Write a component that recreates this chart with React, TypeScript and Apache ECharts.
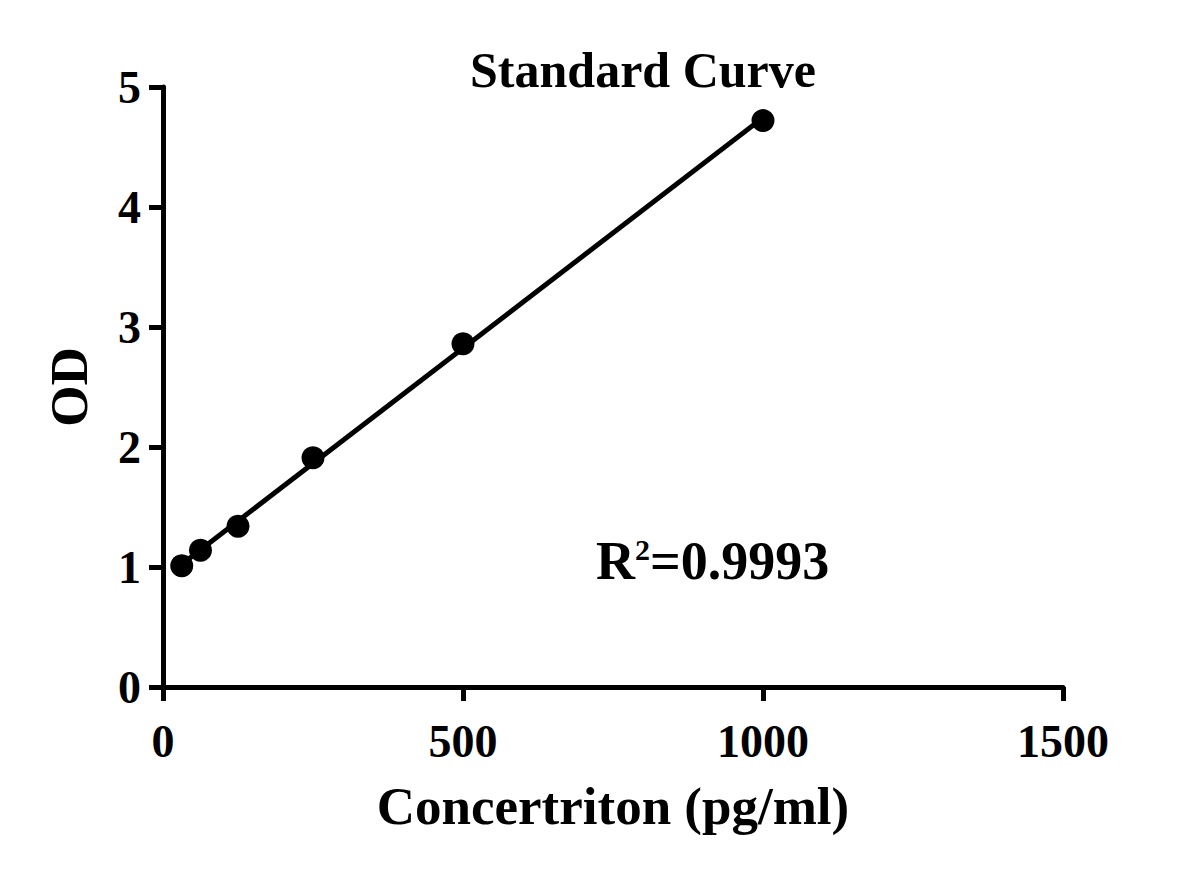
import { useEffect, useRef } from 'react';
import * as echarts from 'echarts';

const concentrations = [31.25, 62.5, 125, 250, 500, 1000];
const odValues = [1.01, 1.14, 1.34, 1.91, 2.86, 4.72];
const xTicks = [0, 500, 1000, 1500];
const yTicks = [0, 1, 2, 3, 4, 5];
const rSquaredLabel = '=0.9993';

const FONT = '"Liberation Serif", "Times New Roman", serif';

// least-squares fit through the standards
function linearFit(xs: number[], ys: number[]) {
  const n = xs.length;
  const mx = xs.reduce((a, b) => a + b, 0) / n;
  const my = ys.reduce((a, b) => a + b, 0) / n;
  let sxy = 0;
  let sxx = 0;
  for (let i = 0; i < n; i++) {
    sxy += (xs[i] - mx) * (ys[i] - my);
    sxx += (xs[i] - mx) * (xs[i] - mx);
  }
  const slope = sxy / sxx;
  return { slope, intercept: my - slope * mx };
}

function buildOption(): echarts.EChartsOption {
  const fit = linearFit(concentrations, odValues);
  const x0 = Math.min(...concentrations);
  const x1 = Math.max(...concentrations);
  const fitLine = [x0, x1].map((x) => [x, fit.intercept + fit.slope * x]);

  const axisCommon = {
    axisLine: { show: true, onZero: false, lineStyle: { color: '#000', width: 5 } },
    axisTick: { show: true, inside: false, length: 14, lineStyle: { color: '#000', width: 5 } },
    splitLine: { show: false },
  };
  const tickFont = { fontFamily: FONT, fontWeight: 'bold' as const, fontSize: 46, color: '#000' };

  return {
    animation: false,
    backgroundColor: '#fff',
    grid: { left: 163, right: 139, top: 87, bottom: 192 },
    title: {
      text: 'Standard Curve',
      left: 638,
      top: 40,
      textAlign: 'center',
      textStyle: { fontFamily: FONT, fontWeight: 'bold', fontSize: 50, color: '#000' },
    },
    xAxis: {
      type: 'value',
      min: xTicks[0],
      max: xTicks[xTicks.length - 1],
      interval: 500,
      name: 'Concertriton (pg/ml)',
      nameLocation: 'middle',
      nameGap: 92,
      nameTextStyle: { fontFamily: FONT, fontWeight: 'bold', fontSize: 53, color: '#000' },
      ...axisCommon,
      axisLabel: { ...tickFont, margin: 31, formatter: (v: number) => String(v) },
    },
    yAxis: {
      type: 'value',
      min: yTicks[0],
      max: yTicks[yTicks.length - 1],
      interval: 1,
      name: 'OD',
      nameLocation: 'middle',
      nameGap: 68,
      nameTextStyle: { fontFamily: FONT, fontWeight: 'bold', fontSize: 53, color: '#000' },
      ...axisCommon,
      axisLabel: { ...tickFont, margin: 22, formatter: (v: number) => String(v) },
    },
    series: [
      {
        type: 'line',
        data: fitLine,
        showSymbol: false,
        symbol: 'none',
        lineStyle: { color: '#000', width: 5 },
        z: 2,
      },
      {
        type: 'scatter',
        data: concentrations.map((c, i) => [c, odValues[i]]),
        symbol: 'circle',
        symbolSize: 23,
        itemStyle: { color: '#000', opacity: 1 },
        z: 3,
      },
    ],
    graphic: [
      {
        type: 'text',
        left: 596,
        top: 534,
        style: {
          text: '{r|R}{s|2}{v|' + rSquaredLabel + '}',
          rich: {
            r: { fontFamily: FONT, fontWeight: 'bold', fontSize: 54, fill: '#000', verticalAlign: 'bottom' },
            s: { fontFamily: FONT, fontWeight: 'bold', fontSize: 30, fill: '#000', verticalAlign: 'top', padding: [0, 0, 22, 0] },
            v: { fontFamily: FONT, fontWeight: 'bold', fontSize: 54, fill: '#000', verticalAlign: 'bottom' },
          },
        },
      },
    ],
  };
}

export default function App() {
  const containerRef = useRef<HTMLDivElement | null>(null);

  useEffect(() => {
    if (!containerRef.current) return;
    const chart = echarts.init(containerRef.current, undefined, { renderer: 'svg' });
    chart.setOption(buildOption());
    return () => {
      chart.dispose();
    };
  }, []);

  return (
    <div
      ref={containerRef}
      style={{ position: 'fixed', left: 0, top: 0, width: 1202, height: 879, background: '#fff' }}
    />
  );
}
